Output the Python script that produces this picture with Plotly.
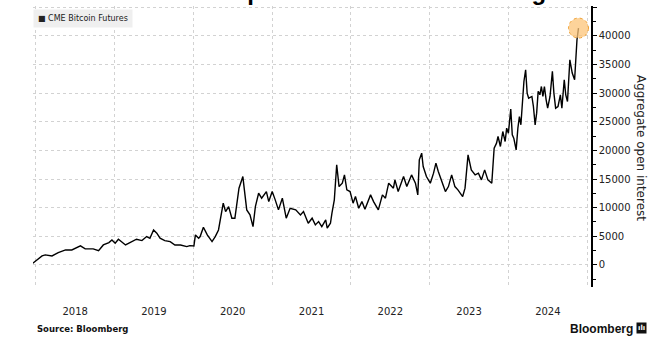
import plotly.graph_objects as go

# ---- data ----
dates = [
    "2017-12-18", "2018-01-30", "2018-02-14", "2018-03-17", "2018-04-15", "2018-05-19",
    "2018-06-17", "2018-07-27", "2018-08-18", "2018-09-24", "2018-10-19", "2018-11-10",
    "2018-12-06", "2018-12-20", "2019-01-04", "2019-01-19", "2019-02-21", "2019-03-15",
    "2019-04-13", "2019-05-08", "2019-05-30", "2019-06-14", "2019-07-01", "2019-07-16",
    "2019-07-31", "2019-08-22", "2019-09-16", "2019-10-08", "2019-11-03", "2019-12-02",
    "2019-12-16", "2020-01-04", "2020-01-11", "2020-01-26", "2020-02-02", "2020-02-17",
    "2020-03-06", "2020-03-28", "2020-04-12", "2020-04-27", "2020-05-04", "2020-05-19",
    "2020-05-30", "2020-06-13", "2020-06-28", "2020-07-12", "2020-07-31", "2020-08-18",
    "2020-08-25", "2020-09-05", "2020-09-20", "2020-10-04", "2020-10-15", "2020-10-30",
    "2020-11-13", "2020-12-05", "2020-12-16", "2021-01-01", "2021-01-15", "2021-01-30",
    "2021-02-17", "2021-03-07", "2021-03-25", "2021-04-20", "2021-05-12", "2021-05-26",
    "2021-06-17", "2021-07-05", "2021-07-20", "2021-08-04", "2021-08-19", "2021-09-06",
    "2021-09-13", "2021-09-28", "2021-10-05", "2021-10-16", "2021-10-27", "2021-11-07",
    "2021-11-22", "2021-12-02", "2021-12-13", "2021-12-28", "2022-01-11", "2022-01-22",
    "2022-02-06", "2022-02-21", "2022-03-07", "2022-04-02", "2022-04-16", "2022-05-08",
    "2022-05-27", "2022-06-10", "2022-06-25", "2022-07-17", "2022-07-24", "2022-08-08",
    "2022-09-02", "2022-09-17", "2022-10-09", "2022-10-27", "2022-11-07", "2022-11-14",
    "2022-11-25", "2022-12-02", "2022-12-17", "2023-01-04", "2023-01-19", "2023-01-30",
    "2023-02-10", "2023-02-24", "2023-03-15", "2023-03-29", "2023-04-13", "2023-04-28",
    "2023-05-12", "2023-06-03", "2023-06-14", "2023-06-28", "2023-07-13", "2023-07-31",
    "2023-08-15", "2023-08-29", "2023-09-13", "2023-09-28", "2023-10-16", "2023-10-27",
    "2023-11-07", "2023-11-14", "2023-11-25", "2023-12-06", "2023-12-17", "2023-12-24",
    "2024-01-01", "2024-01-12", "2024-01-19", "2024-01-26", "2024-02-06", "2024-02-14",
    "2024-02-21", "2024-02-28", "2024-03-06", "2024-03-13", "2024-03-21", "2024-03-28",
    "2024-04-04", "2024-04-19", "2024-04-26", "2024-05-04", "2024-05-11", "2024-05-18",
    "2024-05-26", "2024-06-02", "2024-06-09", "2024-06-16", "2024-06-24", "2024-07-01",
    "2024-07-12", "2024-07-23", "2024-07-30", "2024-08-07", "2024-08-18", "2024-08-29",
    "2024-09-05", "2024-09-16", "2024-09-23", "2024-10-01", "2024-10-12", "2024-10-23",
    "2024-11-03", "2024-11-10", "2024-11-14", "2024-11-21",
]
open_interest = [
    300, 1570, 1750, 1570, 2150, 2620,
    2620, 3320, 2800, 2800, 2500, 3490,
    3900, 4370, 3790, 4490, 3490, 3900,
    4490, 4250, 4950, 4660, 6110, 5540,
    4660, 4250, 4080, 3490, 3490, 3200,
    3370, 3320, 5240, 4660, 4950, 6590,
    5240, 4080, 4950, 6110, 7860, 10780,
    9310, 10190, 8160, 8160, 13400, 15430,
    13100, 9610, 8735, 6690, 10190, 12520,
    11650, 12810, 11060, 12810, 11360, 9610,
    11650, 8160, 9900, 9610, 8735, 9310,
    7280, 8160, 6990, 7570, 6690, 7860,
    6410, 7280, 9030, 11360, 17470, 13680,
    14270, 15720, 13100, 12810, 10780, 11940,
    9900, 11060, 9730, 12230, 11060, 9610,
    12230, 11650, 14270, 13400, 14850, 12810,
    15430, 13680, 15720, 14270, 12230, 18340,
    19510, 17170, 15430, 14270, 16020, 17770,
    16310, 14850, 12810, 13680, 15720, 13680,
    13100, 11940, 13400, 19220, 16600, 15720,
    16020, 14850, 16600, 14850, 14270, 20380,
    21260, 22420, 20680, 23290, 21550, 23880,
    23000, 27200, 22710, 22130, 20090, 23880,
    25910, 24460, 27950, 32020, 34070, 30000,
    29120, 29410, 27660, 24460, 26500, 30290,
    29700, 31150, 29410, 31150, 28830, 27370,
    29410, 33780, 30000, 27370, 27660, 29700,
    27370, 32320, 29700, 28530, 35810, 33490,
    32320, 38140, 39310, 41350,
]
series_name = "CME Bitcoin Futures"
y_tick_vals = [0, 5000, 10000, 15000, 20000, 25000, 30000, 35000, 40000, 45000]
y_tick_text = ["0", "5000", "10000", "15000", "20000", "25000", "30000", "35000", "40000", ""]

FONT = "DejaVu Sans"
GRID = "#d2d2d2"

fig = go.Figure()
fig.add_trace(go.Scatter(
    x=dates, y=open_interest, mode="lines", name=series_name,
    line=dict(color="black", width=1.4), showlegend=False,
))

# highlight circle on the last observation
fig.add_shape(
    type="circle", xref="x", yref="y",
    xsizemode="pixel", ysizemode="pixel",
    xanchor=dates[-1], yanchor=open_interest[-1],
    x0=-10, x1=10, y0=-10, y1=10,
    fillcolor="rgba(252,196,120,0.75)",
    line=dict(color="#f0a030", width=1, dash="dot"),
    layer="above",
)

fig.update_layout(
    width=669, height=350,
    margin=dict(l=33, r=78, t=6, b=63, autoexpand=False),
    paper_bgcolor="white", plot_bgcolor="white",
    font=dict(family=FONT, size=10, color="#222"),
    xaxis=dict(
        type="date", automargin=False,
        range=["2017-12-19", "2025-01-18"],
        dtick="M12", tick0="2018-01-01",
        ticklabelmode="period", tickformat="%Y",
        showgrid=True, gridcolor=GRID, griddash="dot", gridwidth=1,
        showline=False, zeroline=False, ticks="",
        tickfont=dict(family=FONT, size=10, color="#222"),
        ticklabelstandoff=17,
    ),
    yaxis=dict(
        side="right", automargin=False,
        range=[-3850, 45200],
        tickmode="array", tickvals=y_tick_vals, ticktext=y_tick_text,
        showgrid=True, gridcolor=GRID, griddash="dot", gridwidth=1,
        zeroline=False,
        showline=True, linecolor="black", linewidth=1.5,
        ticks="outside", ticklen=4, tickcolor="black", tickwidth=1,
        minor=dict(dtick=2500, tick0=0, ticks="outside", ticklen=3,
                   tickcolor="black", showgrid=False),
        tickfont=dict(family=FONT, size=10, color="#222"),
    ),
)

# legend box
fig.add_annotation(
    xref="paper", yref="paper", x=0, y=0.989, xanchor="left", yanchor="top",
    text="■ " + series_name, showarrow=False,
    font=dict(family=FONT, size=8, color="#222"),
    bgcolor="#efefef", borderpad=4,
)

# right axis title
fig.add_annotation(
    xref="paper", yref="paper", x=1.091, y=0.496, xanchor="center", yanchor="middle",
    text="Aggregate open interest", textangle=90, showarrow=False,
    font=dict(family=FONT, size=12, color="#222"),
)

# cropped chart title at the very top
fig.add_annotation(
    xref="paper", yref="paper", x=0.484, y=1, xanchor="center", yanchor="bottom",
    yshift=-1,
    text="<b>Bitcoin Futures Open Interest at Record High</b>", showarrow=False,
    font=dict(family="Liberation Sans", size=24, color="black"),
)

# footer
fig.add_annotation(
    xref="paper", yref="paper", x=0.004, y=-0.125, xanchor="left", yanchor="top",
    text="<b>Source: Bloomberg</b>", showarrow=False,
    font=dict(family=FONT, size=8.5, color="#111"),
)
fig.add_annotation(
    xref="paper", yref="paper", x=1.079, y=-0.117, xanchor="right", yanchor="top",
    text="<b>Bloomberg</b>", showarrow=False,
    font=dict(family="Liberation Sans", size=12, color="#111"),
)
fig.add_annotation(
    xref="paper", yref="paper", x=1.101, y=-0.125, xanchor="right", yanchor="top",
    text="<b>ılı</b>", showarrow=False,
    font=dict(family=FONT, size=7, color="white"),
    bgcolor="#111", borderpad=1,
)

fig.write_html("out.html", config={"displayModeBar": False},
               post_script="document.body.style.margin='0px';")
